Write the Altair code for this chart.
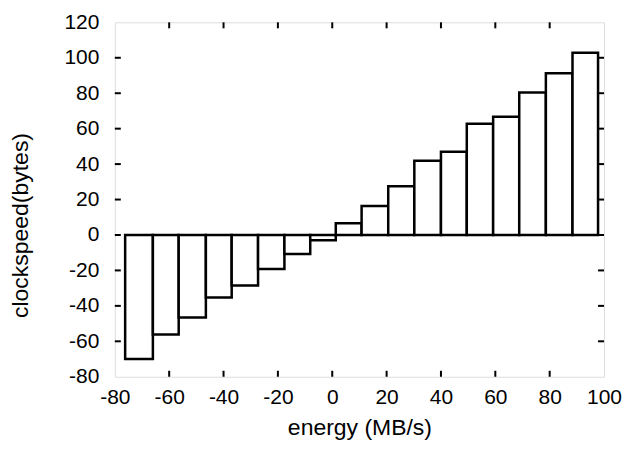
import altair as alt
import pandas as pd

# bar edges along x (energy, MB/s) and bar heights (clockspeed, bytes)
edges = [-76.2, -66.0, -56.5, -46.5, -37.0, -27.3, -17.6, -8.1, 1.3, 10.8,
         20.6, 30.2, 40.0, 49.5, 59.2, 68.8, 78.6, 88.4, 97.8]
values = [-70.0, -56.2, -46.5, -35.3, -28.5, -19.2, -10.8, -3.0, 6.6, 16.3,
          27.5, 41.9, 46.9, 62.8, 66.7, 80.4, 91.2, 102.8]
x_ticks = [-80, -60, -40, -20, 0, 20, 40, 60, 80, 100]
y_ticks = [-80, -60, -40, -20, 0, 20, 40, 60, 80, 100, 120]

W, H = 490, 355
TL = 6

bars = pd.DataFrame({"x0": edges[:-1], "x1": edges[1:], "v": values})
xt = pd.DataFrame({"t": x_ticks[1:-1]})
yt = pd.DataFrame({"t": y_ticks[1:-1]})

FONT = "Liberation Sans"
xscale = alt.Scale(domain=[-80, 100], nice=False, zero=False)
yscale = alt.Scale(domain=[-80, 120], nice=False, zero=False)

xaxis = alt.Axis(values=x_ticks, title="energy (MB/s)", grid=False, domain=False,
                 ticks=False, labelFont=FONT, labelFontSize=21, labelColor="black",
                 labelPadding=10, labelFlush=False, labelOverlap=False,
                 labelExpr="'' + datum.value",
                 titleFont=FONT, titleFontSize=23,
                 titleFontWeight="normal", titleColor="black", titlePadding=9)
yaxis = alt.Axis(values=y_ticks, title="clockspeed(bytes)", grid=False, domain=False,
                 ticks=False, labelFont=FONT, labelFontSize=21, labelColor="black",
                 labelPadding=16, labelFlush=False, labelOverlap=False,
                 labelExpr="'' + datum.value",
                 titleFont=FONT, titleFontSize=23,
                 titleFontWeight="normal", titleColor="black", titleY=203, titleX=-82,
                 titleBaseline="bottom", titleAngle=270)

bar_layer = alt.Chart(bars).mark_rect(fill="white", stroke="black", strokeWidth=2.5).encode(
    x=alt.X("x0:Q", scale=xscale, axis=xaxis),
    x2="x1:Q",
    y=alt.Y("v:Q", scale=yscale, axis=yaxis),
    y2=alt.datum(0),
)

tick_style = dict(color="black", strokeWidth=2)
xt_bottom = alt.Chart(xt).mark_rule(**tick_style).encode(
    x=alt.X("t:Q", scale=xscale, axis=xaxis), y=alt.value(H), y2=alt.value(H - TL))
xt_top = alt.Chart(xt).mark_rule(**tick_style).encode(
    x=alt.X("t:Q", scale=xscale, axis=xaxis), y=alt.value(0), y2=alt.value(TL))
yt_left = alt.Chart(yt).mark_rule(**tick_style).encode(
    y=alt.Y("t:Q", scale=yscale, axis=yaxis), x=alt.value(0), x2=alt.value(TL))
yt_right = alt.Chart(yt).mark_rule(**tick_style).encode(
    y=alt.Y("t:Q", scale=yscale, axis=yaxis), x=alt.value(W), x2=alt.value(W - TL))

chart = alt.layer(bar_layer, xt_bottom, xt_top, yt_left, yt_right).properties(
    width=W, height=H,
    padding={"left": 2, "top": 3, "right": 0, "bottom": 0},
).configure_view(stroke="black", strokeWidth=2.5).configure(background="white")

chart.save("out.html", embed_options={"renderer": "svg", "actions": False})
